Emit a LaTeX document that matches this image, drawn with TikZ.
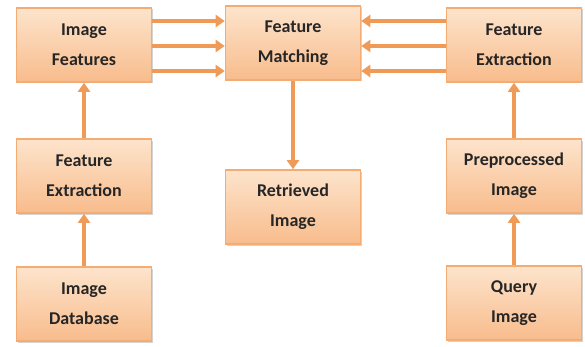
\documentclass[tikz,border=0pt]{standalone}
\usepackage{fontspec}
\setmainfont{Carlito}
\usetikzlibrary{calc, positioning}
\usetikzlibrary{arrows.meta}
\usetikzlibrary{shadows}

\definecolor{boxtop}{HTML}{FDE4CC}
\definecolor{boxbot}{HTML}{F8BC8C}
\definecolor{boxline}{HTML}{F4AC72}
\definecolor{arrowcol}{HTML}{F09A58}

\begin{document}
\begin{tikzpicture}[x=1pt,y=1pt,
  block/.style={rectangle, draw=boxline, line width=1.6pt, top color=boxtop, bottom color=boxbot,
    minimum width=135pt, minimum height=74pt, align=center, font=\fontsize{18}{30}\selectfont\bfseries,
    text=black!85, drop shadow={shadow xshift=1.5pt, shadow yshift=-1.5pt, opacity=0.35}},
  flow/.style={draw=arrowcol, line width=3.6pt, -{Triangle[width=12pt,length=9pt]}}]
\useasboundingbox (0,0) rectangle (585,346);
\coordinate (L1) at (84,301);
\coordinate (L2) at (84,170);
\coordinate (L3) at (84,42);
\coordinate (M1) at (293,303);
\coordinate (M2) at (293,139);
\coordinate (R1) at (514,301);
\coordinate (R2) at (514,170);
\coordinate (R3) at (514,43);

\node[block] (imgfeat) at (L1) {Image\\Features};
\node[block] (featmatch) at (M1) {Feature\\Matching};
\node[block] (extractR) at (R1) {Feature\\Extraction};
\node[block] (extractL) at (L2) {Feature\\Extraction};
\node[block] (retrieved) at (M2) {Retrieved\\Image};
\node[block] (preproc) at (R2) {Preprocessed\\Image};
\node[block] (database) at (L3) {Image\\Database};
\node[block] (query) at (R3) {Query\\Image};

\foreach \dy in {24,-1,-26} {
  \draw[flow] ([yshift=\dy]imgfeat.east) -- ([yshift=\dy]imgfeat.east -| featmatch.west);
  \draw[flow] ([yshift=\dy]extractR.west) -- ([yshift=\dy]extractR.west -| featmatch.east);
}

\draw[flow] (database) -- (extractL);
\draw[flow] (extractL) -- (imgfeat);
\draw[flow] (featmatch) -- (retrieved);
\draw[flow] (query) -- (preproc);
\draw[flow] (preproc) -- (extractR);
\end{tikzpicture}
\end{document}
